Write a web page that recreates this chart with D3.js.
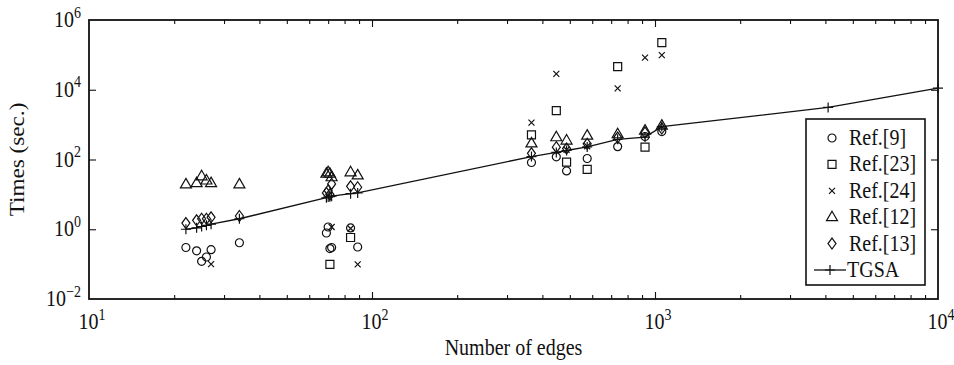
<!DOCTYPE html>
<html><head><meta charset="utf-8">
<script src="https://cdn.jsdelivr.net/npm/d3@7"></script>
<style>
body{margin:0;background:#fff}
text{font-family:"Liberation Serif","Times New Roman",serif;fill:#111}
</style>
</head><body>
<svg id="c" width="954" height="365"></svg>
<script>
// ---- data ----
const edges = [22,24,25,26,27,34,69,70,71,72,84,89,366,448,487,576,738,922,1057];
const ref9  = [0.30,0.24,0.12,0.16,0.26,0.41,0.78,1.16,0.28,0.30,1.09,0.31,82,119,47,107,234,457,631];
const ref23 = [null,null,null,null,null,null,null,null,0.098,null,0.58,null,508,2510,84,52,46300,225,224000];
const ref24 = [null,null,null,null,0.10,null,null,null,null,1.16,1.05,0.098,1140,28600,190,240,10900,83800,98000];
const ref12 = [19.3,21,33,25,21,19.3,39,43,39,31,43,35,290,434,349,485,530,674,936];
const ref13 = [1.5,1.8,2.0,2.0,2.2,2.4,11,13,10,20,17,16,150,225,206,281,426,589,769];
const tgsaEdges = [22,24,25,26,27,34,69,70,71,72,84,89,366,448,487,576,738,922,1057,4090,10000];
const tgsaTimes = [1.0,1.1,1.2,1.3,1.4,2.0,8.0,8.4,8.6,8.9,10.5,11.0,121,160,181,229,380,440,877,3120,11200];
const xTickExp = [1,2,3,4];
const yTickExp = [-2,0,2,4,6];
const legendLabels = ["Ref.[9]","Ref.[23]","Ref.[24]","Ref.[12]","Ref.[13]","TGSA"];

// ---- layout ----
const svg = d3.select("#c");
const L=89, R=938, T=20, B=299;
const SY = 1.16; // vertical text stretch
const x = d3.scaleLog().domain([10,1e4]).range([L,R]);
const y = d3.scaleLog().domain([1e-2,1e6]).range([B,T]);

const sym = {
  circle: "M4,0A4,4 0 1,1 -4,0A4,4 0 1,1 4,0Z",
  square: "M-4,-4H4V4H-4Z",
  times: "M-3,-3L3,3M-3,3L3,-3",
  triangle: "M0,-6L5.5,3.5H-5.5Z",
  diamond: "M0,-5.5L4,0L0,5.5L-4,0Z",
  plus: "M-5,0H5M0,-5V5"
};
const seriesList = [
  {vals:ref9, shape:"circle"},
  {vals:ref23, shape:"square"},
  {vals:ref24, shape:"times"},
  {vals:ref12, shape:"triangle"},
  {vals:ref13, shape:"diamond"}
];

const majorX = xTickExp.map(e=>Math.pow(10,e));
const minorX = [];
for (let e=1;e<4;e++) for (let k=2;k<10;k++) minorX.push(k*Math.pow(10,e));
const majorY = yTickExp.map(e=>Math.pow(10,e));

function drawAxis(gen, tf){
  const g = svg.append("g").attr("transform",tf).call(gen);
  g.select(".domain").remove();
  g.selectAll("line").attr("stroke","#111").attr("stroke-width",1.1);
  g.selectAll("text").remove();
}
drawAxis(d3.axisBottom(x).tickValues(majorX.slice(1,3)).tickSize(-7), `translate(0,${B})`);
drawAxis(d3.axisBottom(x).tickValues(minorX).tickSize(-4), `translate(0,${B})`);
drawAxis(d3.axisTop(x).tickValues(majorX.slice(1,3)).tickSize(-7), `translate(0,${T})`);
drawAxis(d3.axisTop(x).tickValues(minorX).tickSize(-4), `translate(0,${T})`);
drawAxis(d3.axisLeft(y).tickValues(majorY.slice(1,4)).tickSize(-7), `translate(${L},0)`);
drawAxis(d3.axisRight(y).tickValues(majorY.slice(1,4)).tickSize(-7), `translate(${R},0)`);

svg.append("rect").attr("x",L).attr("y",T).attr("width",R-L).attr("height",B-T)
  .attr("fill","none").attr("stroke","#111").attr("stroke-width",1.8);

const fs = 20;
function expLabel(e, anchor, px, py){
  const t = svg.append("text").attr("font-size",fs).attr("text-anchor",anchor)
    .attr("transform",`translate(${px},${py}) scale(1,${SY})`);
  t.append("tspan").text("10");
  t.append("tspan").attr("font-size",14).attr("dy",-8).text(e<0?"\u2212"+(-e):String(e));
}
xTickExp.forEach(e=> expLabel(e,"middle", x(Math.pow(10,e))+3, B+30));
yTickExp.forEach(e=> expLabel(e,"end", L-8, y(Math.pow(10,e))+7));

svg.append("text").attr("transform",`translate(${(L+R)/2},355) scale(1,${SY})`)
  .attr("text-anchor","middle").attr("font-size",fs).text("Number of edges");
svg.append("text").attr("transform",`translate(24,${(T+B)/2}) rotate(-90) scale(${SY},1)`)
  .attr("text-anchor","middle").attr("font-size",fs).text("Times (sec.)");

const line = d3.line().x(d=>x(d[0])).y(d=>y(d[1]));
const tg = tgsaEdges.map((e,i)=>[e,tgsaTimes[i]]);
svg.append("path").datum(tg).attr("d",line).attr("fill","none")
  .attr("stroke","#111").attr("stroke-width",1.3);
svg.append("g").selectAll("path").data(tg).join("path")
  .attr("transform",d=>`translate(${x(d[0])},${y(d[1])})`)
  .attr("d",sym.plus).attr("fill","none").attr("stroke","#111").attr("stroke-width",1.2);

seriesList.forEach(s=>{
  const pts = edges.map((e,i)=>[e,s.vals[i]]).filter(d=>d[1]!=null);
  svg.append("g").selectAll("path").data(pts).join("path")
    .attr("transform",d=>`translate(${x(d[0])},${y(d[1])})`)
    .attr("d",sym[s.shape]).attr("fill","none").attr("stroke","#111").attr("stroke-width",1.2);
});

const lg = svg.append("g");
lg.append("rect").attr("x",806).attr("y",119).attr("width",119).attr("height",166)
  .attr("fill","#fff").attr("stroke","#111").attr("stroke-width",1.6);
legendLabels.forEach((lab,i)=>{
  const cy = 138 + i*26.4;
  if (i<5){
    lg.append("path").attr("transform",`translate(832,${cy})`).attr("d",sym[seriesList[i].shape])
      .attr("fill","none").attr("stroke","#111").attr("stroke-width",1.2);
  } else {
    lg.append("line").attr("x1",814).attr("x2",846).attr("y1",cy).attr("y2",cy)
      .attr("stroke","#111").attr("stroke-width",1.3);
    lg.append("path").attr("transform",`translate(830,${cy})`).attr("d",sym.plus)
      .attr("fill","none").attr("stroke","#111").attr("stroke-width",1.2);
  }
  lg.append("text").attr("transform",`translate(${i<5?849:847},${cy+7}) scale(1,${SY})`)
    .attr("font-size",fs).text(lab);
});
</script>
</body></html>
